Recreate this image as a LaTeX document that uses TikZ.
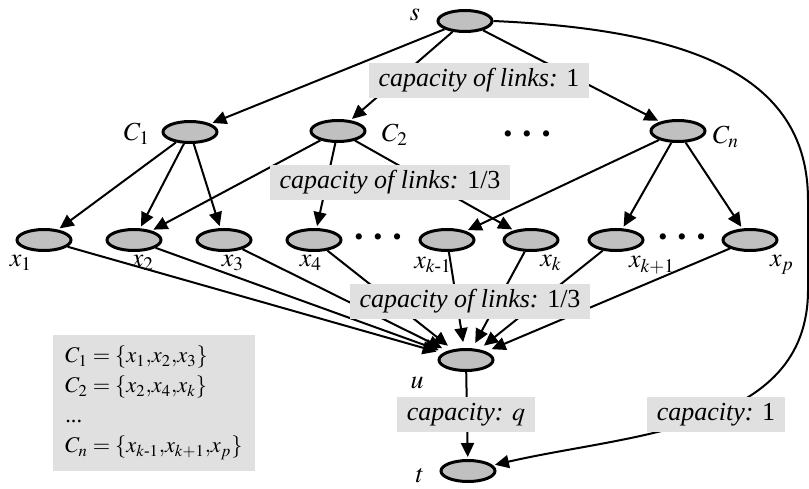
\documentclass[tikz,border=0pt]{standalone}
\usepackage{amsmath}
\usepackage{mathptmx}
\usepackage{fontspec}
\setmainfont{Liberation Serif}
\usepackage{tikz}
\usetikzlibrary{shapes.geometric,arrows,arrows.meta,positioning}
\definecolor{nodegray}{RGB}{192,192,192}
\definecolor{boxgray}{RGB}{224,224,224}

\begin{document}
\begin{tikzpicture}[x=0.5pt, y=-0.5pt, shorten >=1pt, line width=1pt,
    >={Triangle[length=7pt,width=6.5pt]}, font=\fontsize{13}{15}\selectfont]
   \useasboundingbox (0,0) rectangle (809,488);
   \begin{scope}[every node/.style={ellipse,draw=black,line width=1.5pt,fill=nodegray,
       minimum width=27pt,minimum height=10.5pt,inner sep=0pt}]
    \node (s) at (465,21) {};
    \node (c1) at (190,132) {};
    \node (c2) at (338,131) {};
    \node (cn) at (678,131) {};
    \node (x1) at (44,240) {};
    \node (x2) at (134,240) {};
    \node (x3) at (224,240) {};
    \node (x4) at (314,240) {};
    \node (xkm) at (447,240) {};
    \node (xk) at (531,240) {};
    \node (xkp) at (616,240) {};
    \node (xp) at (750,240) {};
    \node (u) at (466,360) {};
    \node (t) at (468,471) {};
   \end{scope}
   % names of the vertices
   \node (ls) at (415,15) {$s$};
   \node (lc1) at (137,134) {$C_1$};
   \node (lc2) at (395,135) {$C_2$};
   \node (lcn) at (726,137) {$C_n$};
   \node (lx1) at (21,263) {$x_1$};
   \node (lx2) at (143,263) {$x_2$};
   \node (lx3) at (233,263) {$x_3$};
   \node (lx4) at (311,263) {$x_4$};
   \node (lxkm) at (433,265) {$x_{k\text{-}1}$};
   \node (lxk) at (551,263) {$x_k$};
   \node (lxkp) at (652,265) {$x_{k+1}$};
   \node (lxp) at (782,265) {$x_p$};
   \node (lu) at (417,383) {$u$};
   \node (lt) at (420,476) {$t$};
   \node (dc) at (527,137) {\textbullet\hspace{5pt}\textbullet\hspace{5pt}\textbullet};
   \node (dxa) at (378,240) {\textbullet\hspace{5pt}\textbullet\hspace{5pt}\textbullet};
   \node (dxb) at (682,240) {\textbullet\hspace{5pt}\textbullet\hspace{5pt}\textbullet};
   \begin{scope}[->, every edge/.style={draw=black,line width=1pt}]
    \draw (s) edge (c1);
    \draw (s) edge (c2);
    \draw (s) edge (cn);
    \draw (c1) edge (x1);
    \draw (c1) edge (x2);
    \draw (c1) edge (x3);
    \draw (c2) edge (x2);
    \draw (c2) edge (x4);
    \draw (c2) edge (xk);
    \draw (cn) edge (xkm);
    \draw (cn) edge (xkp);
    \draw (cn) edge (xp);
   \end{scope}
   \begin{scope}[->, shorten >=3pt, every edge/.style={draw=black,line width=1pt}]
    \draw (x1) edge (u);
    \draw (x2) edge (u);
    \draw (x3) edge (u);
    \draw (x4) edge (u);
    \draw (xkm) edge (u);
    \draw (xk) edge (u);
    \draw (xkp) edge (u);
    \draw (xp) edge (u);
    \draw (u) edge [shorten >=1pt] (t);
   \end{scope}
   \coordinate (rim) at (808,290);
   \draw[->] (s.east) .. controls (700,30) and (808,80) .. (808,200) -- (rim)
     to[out=-90,in=13] (t);
   % capacities
   \begin{scope}[every node/.style={fill=boxgray,inner xsep=5pt,inner ysep=2.5pt,
       text height=9.5pt,text depth=3pt}]
    \node (cap1) at (479,80) {\textit{capacity of links:} 1};
    \node (cap2) at (390,182) {\textit{capacity of links:} 1/3};
    \node (cap3) at (470,301) {\textit{capacity of links:} 1/3};
    \node (capq) at (466,414) {\textit{capacity:} $q$};
    \node (capt) at (716,414) {\textit{capacity:} 1};
   \end{scope}
   \node (sets) [fill=boxgray, minimum width=101pt, minimum height=68pt,
     align=left, font=\fontsize{11.2}{15}\selectfont] at (154,403)
     {$C_1=\{x_1{,}x_2{,}x_3\}$\\ $C_2=\{x_2{,}x_4{,}x_k\}$\\ ...\\
      $C_n=\{x_{k\text{-}1}{,}x_{k+1}{,}x_p\}$};
\end{tikzpicture}
\end{document}
